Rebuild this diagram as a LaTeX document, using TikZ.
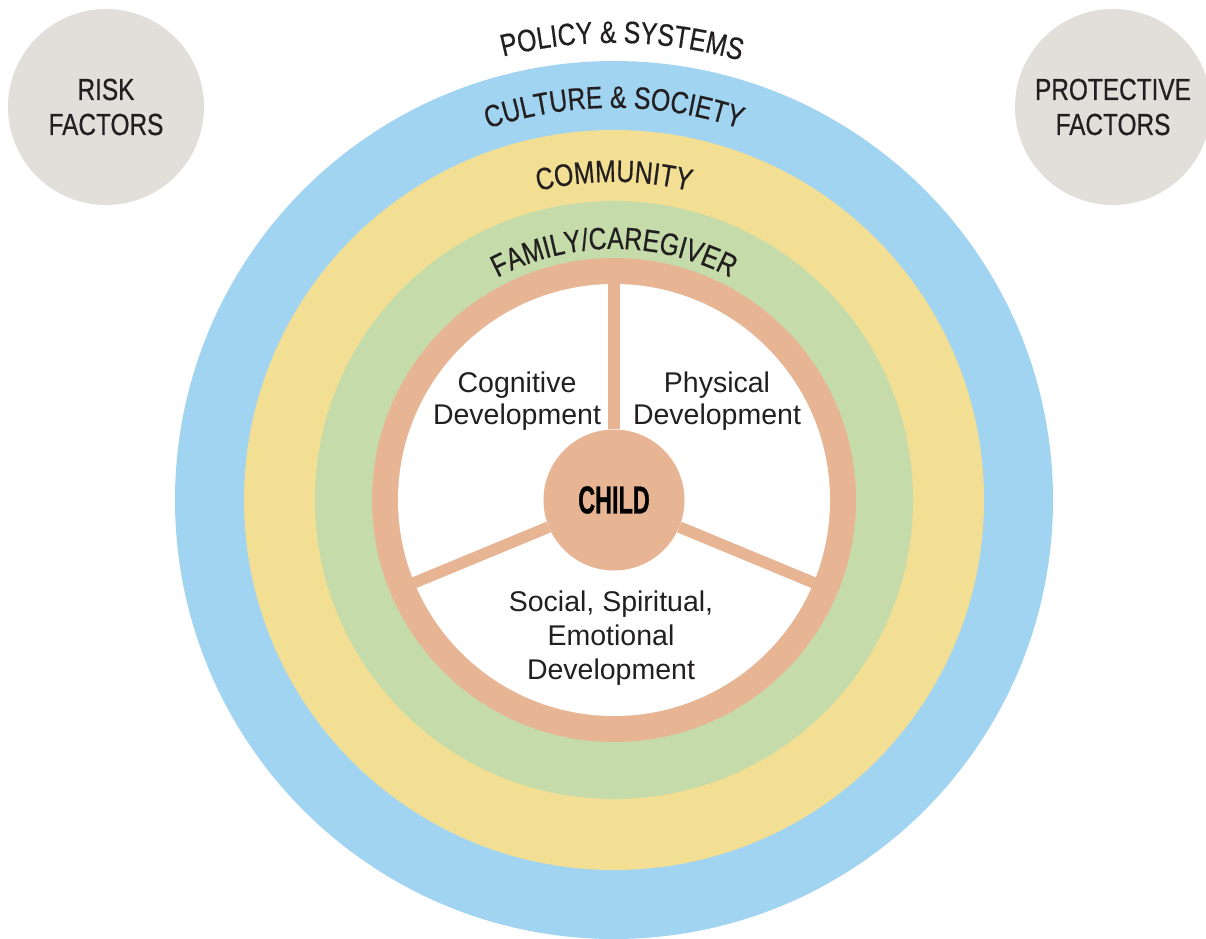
\documentclass[tikz,border=0pt]{standalone}
\usepackage{fontspec}
\setmainfont{Liberation Sans}
\newfontfamily\capsfont[FakeStretch=0.8,FakeBold=0.5]{Liberation Sans}
\newfontfamily\childfont[FakeStretch=0.6,FakeBold=0.6]{Liberation Sans Bold}
\usetikzlibrary{decorations.text,calc}
\definecolor{ringblue}{RGB}{161,212,241}
\definecolor{ringyellow}{RGB}{242,223,147}
\definecolor{ringgreen}{RGB}{197,220,170}
\definecolor{salmon}{RGB}{232,181,148}
\definecolor{factorgray}{RGB}{226,223,219}
\definecolor{inkc}{RGB}{35,31,32}
\newcommand\arclab{\capsfont\fontsize{31}{31}\selectfont\color{inkc}}
\begin{document}
\begin{tikzpicture}[x=1pt,y=1pt,
  disc/.style={circle,inner sep=0pt,draw=none},
  bodytext/.style={align=center,inner sep=0pt,font=\fontsize{28.5}{32}\selectfont,text=inkc},
  factor/.style={disc,fill=factorgray,minimum size=196pt,align=center,
    font=\capsfont\fontsize{30.5}{35}\selectfont,text=inkc},
  spoke/.style={draw=salmon,line width=11.5pt},
  arclabel/.style={decorate,decoration={text along path,text align=center,text={#1}}}]
\useasboundingbox (0,0) rectangle (1206,938);
\coordinate (C) at (614,438);
% rings
\node[disc,fill=ringblue,minimum size=878pt] (culture) at (C) {};
\node[disc,fill=ringyellow,minimum size=740pt] (community) at (C) {};
\node[disc,fill=ringgreen,minimum size=598pt] (family) at (C) {};
\node[disc,fill=salmon,minimum size=484pt] (ring) at (C) {};
\node[disc,fill=white,minimum size=432pt] (wheel) at (C) {};
% factor circles
\node[factor] (risk) at (106,831) {RISK\\FACTORS};
\node[factor] (protective) at (1113,831) {PROTECTIVE\\FACTORS};
% arc labels
\path[arclabel={|\arclab|POLICY {\&} SYSTEMS}]
  ($(C)+(159:457)$) arc[start angle=159,end angle=19,radius=457];
\path[arclabel={|\arclab|CULTURE {\&} SOCIETY}]
  ($(C)+(160:392)$) arc[start angle=160,end angle=20,radius=392];
\path[arclabel={|\arclab|COMMUNITY}]
  ($(C)+(160:318)$) arc[start angle=160,end angle=20,radius=318];
\path[arclabel={|\arclab|FAMILY/CAREGIVER}]
  ($(C)+(160:251)$) arc[start angle=160,end angle=20,radius=251];
% spokes and child
\coordinate (s1) at ($(C)+(90:229)$);
\coordinate (s2) at ($(C)+(-22.5:229)$);
\coordinate (s3) at ($(C)+(202.5:229)$);
\node[disc,fill=salmon,minimum size=141pt,font=\childfont\fontsize{39}{39}\selectfont,text=black] (child) at (C) {CHILD};
\draw[spoke] (child) -- (s1);
\draw[spoke] (child) -- (s2);
\draw[spoke] (child) -- (s3);
% development texts
\node[bodytext] (cog) at (517,537) {Cognitive\\Development};
\node[bodytext] (phys) at (717,537) {Physical\\Development};
\node[bodytext,font=\fontsize{28.5}{34}\selectfont] (soc) at (611,300) {Social, Spiritual,\\Emotional\\Development};
\end{tikzpicture}
\end{document}
